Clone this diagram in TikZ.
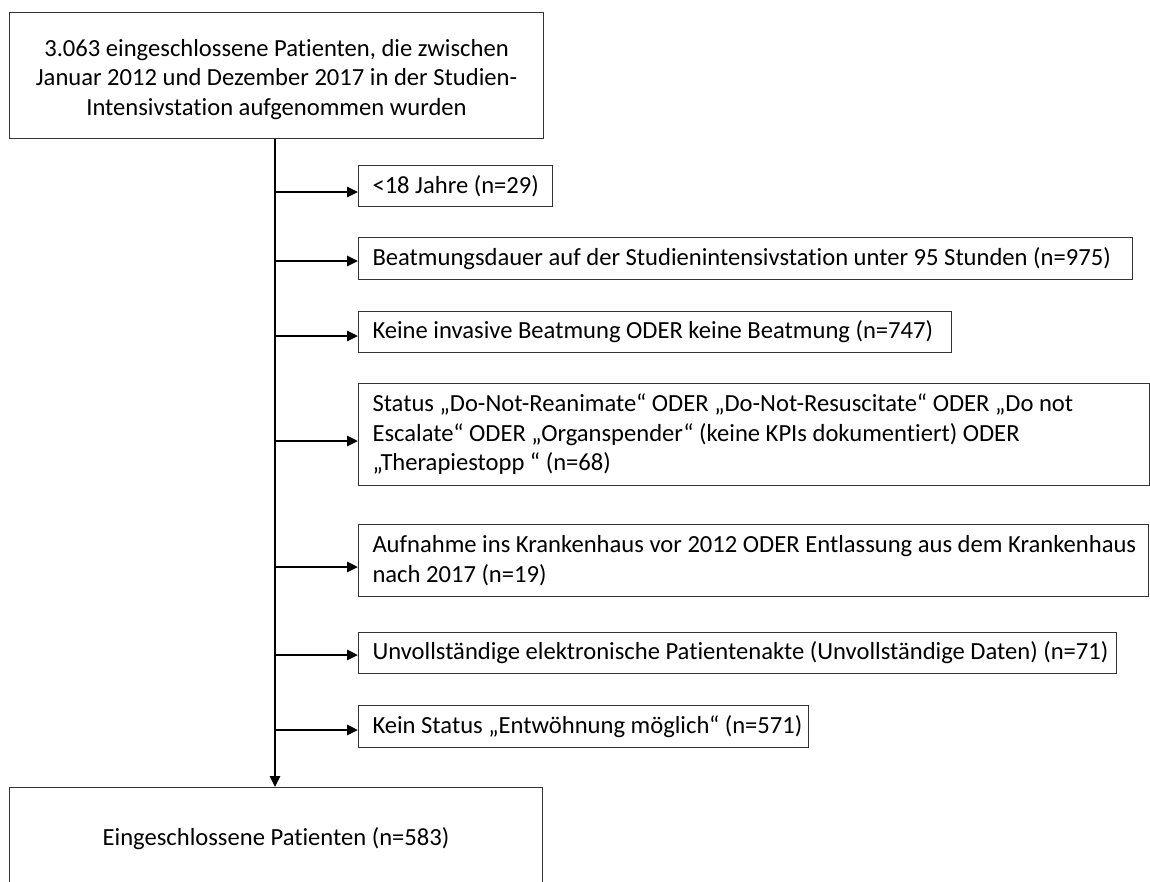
\documentclass[tikz,border=0pt]{standalone}
\usepackage{fontspec}
\setmainfont{Carlito}[Ligatures={NoCommon}]
\usetikzlibrary{arrows.meta}
\newcommand{\boxfont}{\fontsize{24.6}{29.5}\selectfont\spaceskip=0.226em\relax}
\begin{document}
\begin{tikzpicture}[x=1pt,y=-1pt,
  box/.style={draw=black!80, line width=1pt, anchor=north west, inner xsep=14pt, inner ysep=0pt, align=left, font=\boxfont},
  arr/.style={line width=2.6pt, -{Triangle[length=11pt,width=10pt]}}]
\useasboundingbox (0,0) rectangle (1150,881);
\clip (0,0) rectangle (1150,881);
\node[box, align=center, text width=506pt, minimum height=126pt] (top) at (9,12)
  {\raisebox{-4pt}[\height][\depth]{\parbox{506pt}{\centering\boxfont 3.063 eingeschlossene Patienten, die zwischen\\Januar 2012 und Dezember 2017 in der Studien-\\Intensivstation aufgenommen wurden}}};
\node[box, text width=166pt, minimum height=41pt] (b1) at (358,165) {\boxfont\mbox{<18 Jahre (n=29)}};
\node[box, text width=746pt, minimum height=42pt] (b2) at (358,237) {\boxfont\mbox{Beatmungsdauer auf der Studienintensivstation unter 95 Stunden (n=975)}};
\node[box, text width=565pt, minimum height=41pt] (b3) at (358,311) {\boxfont\mbox{Keine invasive Beatmung ODER keine Beatmung (n=747)}};
\node[box, text width=763pt, minimum height=102pt] (b4) at (358,383) {\boxfont\mbox{Status „Do-Not-Reanimate“ ODER „Do-Not-Resuscitate“ ODER „Do not}\\\mbox{Escalate“ ODER „Organspender“ (keine KPIs dokumentiert) ODER}\\\mbox{„Therapiestopp “ (n=68)}};
\node[box, text width=762pt, minimum height=72pt] (b5) at (358,524) {\boxfont\mbox{Aufnahme ins Krankenhaus vor 2012 ODER Entlassung aus dem Krankenhaus}\\\mbox{nach 2017 (n=19)}};
\node[box, text width=730pt, minimum height=41pt] (b6) at (358,632) {\boxfont\mbox{Unvollständige elektronische Patientenakte (Unvollständige Daten) (n=71)}};
\node[box, text width=422pt, minimum height=42pt] (b7) at (358,705) {\boxfont\mbox{Kein Status „Entwöhnung möglich“ (n=571)}};
\node[box, align=center, text width=505pt, minimum height=102pt] (bot) at (9,787) {\boxfont Eingeschlossene Patienten (n=583)};
\coordinate (j1) at (275,192);
\coordinate (j2) at (275,261);
\coordinate (j3) at (275,336);
\coordinate (j4) at (275,441);
\coordinate (j5) at (275,567);
\coordinate (j6) at (275,655);
\coordinate (j7) at (275,730);
\draw[arr] (top.south -| j1) -- (bot.north -| j1);
\draw[arr] (j1) -- (j1 -| b1.west);
\draw[arr] (j2) -- (j2 -| b2.west);
\draw[arr] (j3) -- (j3 -| b3.west);
\draw[arr] (j4) -- (j4 -| b4.west);
\draw[arr] (j5) -- (j5 -| b5.west);
\draw[arr] (j6) -- (j6 -| b6.west);
\draw[arr] (j7) -- (j7 -| b7.west);
\end{tikzpicture}
\end{document}
